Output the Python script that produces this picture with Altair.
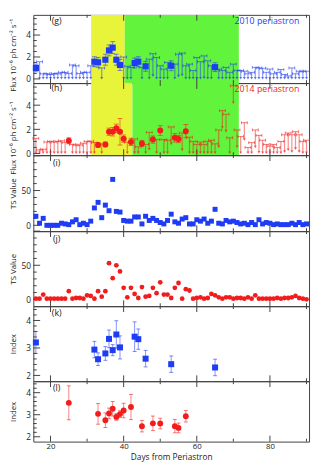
import altair as alt
import pandas as pd

# ---------------- data ----------------
days = list(range(16, 91))

ts_2010 = [13, 3, 10, 0, 0, 0, 0, 3, 2, 1, 5, 8, 1, 3, 1,
           6, 25, 33, 11, 29, 21, 66, 20, 19, 7, 6, 6, 12, 12, 2,
           13, 7, 10, 7, 4, 2, 7, 16, 5, 3, 9, 11, 2, 2, 8,
           6, 9, 3, 6, 23, 3, 2, 7, 5, 6, 4, 2, 3, 1, 4,
           1, 8, 2, 4, 3, 1, 2, 1, 1, 1, 3, 1, 4, 1, 2]
ts_2014 = [1, 1, 7, 1, 1, 1, 1, 1, 1, 12, 1, 2, 2, 1, 6,
           5, 1, 12, 4, 12, 53, 31, 50, 41, 17, 3, 17, 8, 2, 18,
           4, 5, 17, 9, 25, 7, 7, 2, 17, 24, 1, 15, 13, 1, 2,
           3, 1, 2, 8, 6, 3, 1, 3, 3, 1, 2, 2, 1, 3, 1,
           6, 1, 1, 1, 1, 1, 2, 1, 2, 2, 3, 5, 2, 1, 0]

det_2010_day = [16, 32, 33, 35, 36, 37, 38, 39, 43, 44, 46, 53, 65]
det_2010_flux = [1.0, 1.57, 1.51, 1.75, 2.6, 2.85, 1.75, 1.27, 1.45, 1.57, 1.15, 1.2, 1.07]
det_2010_flux_err = [0.35, 0.45, 0.45, 0.5, 0.5, 0.55, 0.5, 0.5, 0.45, 0.45, 0.45, 0.45, 0.4]
det_2010_index = [3.2, 2.94, 2.59, 2.8, 3.33, 2.92, 3.49, 3.02, 3.41, 3.32, 2.61, 2.41, 2.29]
det_2010_index_err = [0.4, 0.3, 0.23, 0.25, 0.32, 0.2, 0.5, 0.42, 0.54, 0.37, 0.3, 0.3, 0.3]

ul_2010_day = [17, 18, 19, 20, 21, 22, 23, 24, 25, 26, 27, 28, 29, 30, 31,
               34, 40, 41, 42, 45, 47, 48, 49, 50, 51, 52,
               54, 55, 56, 57, 58, 59, 60, 61, 62, 63, 64,
               66, 67, 68, 69, 70, 71, 72, 73, 74, 75, 76, 77, 78, 79, 80,
               81, 82, 83, 84, 85, 86, 87, 88, 89, 90]
ul_2010 = [1.57, 0.47, 0.47, 0.4, 0.5, 0.47, 0.6, 0.6, 0.5, 1.27, 1.2, 0.5, 0.6, 0.6, 1.2,
           1.0, 2.0, 1.15, 1.05, 1.05, 1.8, 2.3, 1.95, 1.2, 0.9, 1.5,
           1.35, 2.25, 2.35, 1.2, 1.35, 0.77, 1.95, 1.57, 2.1, 1.65, 1.2,
           0.9, 0.77, 1.05, 0.6, 1.35, 0.77, 0.77, 0.7, 0.47, 0.6, 1.05, 1.0, 0.97, 0.6, 0.9,
           0.47, 0.6, 0.85, 0.4, 0.27, 1.0, 0.47, 0.7, 0.7, 0.7]

det_2014_day = [25, 33, 35, 36, 37, 38, 39, 40, 42, 45, 48, 50, 54, 55, 57]
det_2014_flux = [1.05, 0.7, 0.75, 1.8, 1.8, 2.08, 1.8, 1.23, 0.96, 0.83, 1.15, 1.9, 1.3, 1.2, 1.85]
det_2014_flux_err = [0.25, 0.2, 0.2, 0.3, 0.35, 0.35, 1.1, 0.3, 0.3, 0.25, 0.3, 0.4, 0.35, 0.3, 0.55]
det_2014_index = [3.54, 3.04, 2.75, 3.06, 3.27, 2.9, 3.03, 3.19, 3.35, 2.48, 2.61, 2.6, 2.48, 2.4, 2.93]
det_2014_index_err = [0.77, 0.47, 0.33, 0.24, 0.33, 0.15, 0.15, 0.33, 0.57, 0.26, 0.33, 0.24, 0.3, 0.22, 0.26]

ul_2014_day = [16, 17, 18, 19, 20, 21, 22, 23, 24,
               26, 27, 28, 29, 30, 31, 32, 34,
               41, 43, 44, 46, 47, 49, 51, 52, 53, 56,
               58, 59, 60, 61, 62, 63, 64, 65, 66, 67, 68, 69, 70, 71, 72, 73, 74,
               75, 76, 77, 78, 79, 80, 81, 82, 83, 84, 85, 86, 87, 88, 89, 90]
ul_2014 = [1.25, 0.3, 0.35, 0.95, 1.0, 0.95, 1.0, 1.05, 0.9,
           0.75, 0.7, 0.7, 0.85, 1.0, 1.02, 0.9, 0.8,
           0.95, 1.2, 0.55, 0.75, 1.75, 1.15, 1.15, 1.1, 2.2, 1.7,
           1.35, 1.0, 0.75, 0.95, 0.75, 1.0, 1.1, 0.8, 1.95, 3.55, 3.25, 1.3, 5.6, 1.95, 1.4, 2.55, 0.5,
           0.9, 1.95, 1.5, 1.1, 0.75, 0.6, 0.75, 0.5, 1.0, 1.55, 1.7, 1.55, 1.8, 1.55, 1.0, 1.1]

band_2010_start = [31.1, 40.3]
band_2010_end = [40.3, 71.5]
band_2014_start = [31.1, 42.4]
band_2014_end = [42.4, 71.5]

x_major = [20, 40, 60, 80]
x_minor = [30, 50, 70, 90]
flux_major = [0, 2, 4]
flux_minor = [0.5, 1, 1.5, 2.5, 3, 3.5, 4.5, 5, 5.5]
ts_major = [0, 50, 100]
ts_labels = [0, 50]
ts_minor = [10, 20, 30, 40, 60, 70, 80, 90]
idx_major = [2, 3, 4]
idx_minor = [2.2, 2.4, 2.6, 2.8, 3.2, 3.4, 3.6, 3.8, 4.2, 4.4]

# ---------------- style ----------------
FONT = "Open Sans"
BLUE = "#1f3cf5"
RED = "#f21c1c"
BAND_COLORS = ["#e8f43a", "#62f43c"]
FRAME = "#404040"
TXT = "#222222"
W = 283
XS = alt.Scale(domain=[15.3, 90.7], nice=False, zero=False)
FLUX_TITLE = "Flux 10⁻⁶ ph cm⁻² s⁻¹"

X_AXIS_BOTTOM = alt.Axis(values=x_major, title="Days from Periastron", ticks=False, domain=False,
                         grid=False, labelPadding=1, titlePadding=2, labelFontSize=8,
                         titleFontSize=8.5, titleFontWeight="normal", labelFont=FONT,
                         titleFont=FONT, labelColor=TXT, titleColor=TXT)


def yaxis(values, title, title_y=None):
    kw = dict(values=values, title=title, ticks=False, domain=False, grid=False,
              labelPadding=3, labelFontSize=8.5, titleFontSize=8, titleFontWeight="normal",
              titleX=-20.5, titleBaseline="middle", titleAlign="center",
              labelFont=FONT, titleFont=FONT, labelColor=TXT, titleColor=TXT)
    if title_y is not None:
        kw["titleY"] = title_y
    return alt.Axis(**kw)


def make_panel(h, ydom, ylab_values, ymaj, ymin, ytitle, tag, content, title_y=None,
               xaxis=None, legend=None):
    ysc = alt.Scale(domain=ydom, nice=False, zero=False)
    ya = yaxis(ylab_values, ytitle, title_y)

    def Y(f):
        return alt.Y(f"{f}:Q", scale=ysc, axis=ya)

    def X(f):
        return alt.X(f"{f}:Q", scale=XS, axis=xaxis)

    layers = []
    layers += content["under"](X, Y) if "under" in content else []
    # inward frame ticks
    for vals, L in [(x_major, 6), (x_minor, 3)]:
        df = pd.DataFrame({"day": vals})
        base = alt.Chart(df).mark_rule(color=FRAME, strokeWidth=1)
        layers.append(base.encode(x=X("day"), y=alt.value(h), y2=alt.value(h - L)))
        layers.append(base.encode(x=X("day"), y=alt.value(0), y2=alt.value(L)))
    for vals, L in [(ymaj, 7), (ymin, 3.5)]:
        df = pd.DataFrame({"v": vals})
        layers.append(alt.Chart(df).mark_rule(color=FRAME, strokeWidth=1).encode(
            y=Y("v"), x=alt.value(0), x2=alt.value(L)))
    layers += content["over"](X, Y)
    layers.append(alt.Chart(pd.DataFrame({"t": [tag[0]]})).mark_text(
        font=FONT, fontSize=9, color=TXT, baseline="middle", align="center").encode(
        text="t:N", x=alt.value(24), y=alt.value(tag[1])))
    if legend is not None:
        layers.append(alt.Chart(pd.DataFrame({"t": [legend[0]]})).mark_text(
            font=FONT, fontSize=9, color=legend[1], baseline="middle", align="right").encode(
            text="t:N", x=alt.value(273), y=alt.value(legend[2])))
    return alt.layer(*layers).properties(width=W, height=h)


def flux_content(det_day, det_f, det_e, ul_day, ul_val, bs, be, color, shape, psize, arrow_len):
    def under(X, Y):
        bdf = pd.DataFrame({"s": bs, "e": be, "c": BAND_COLORS})
        return [alt.Chart(bdf).mark_rect().encode(x=X("s"), x2=alt.X2("e"),
                                                 color=alt.Color("c:N", scale=None))]

    def over(X, Y):
        out = []
        ub = alt.Chart(pd.DataFrame({"day": ul_day, "ul": ul_val})).transform_calculate(
            end=f"max(datum.ul - {arrow_len}, 0.06)")
        op = 0.5
        out.append(ub.mark_rule(color=color, opacity=op, strokeWidth=1.2, clip=True).encode(
            x=X("day"), y=Y("ul"), y2=alt.Y2("end")))
        out.append(ub.mark_point(shape="triangle-down", filled=True, size=10, color=color,
                                 opacity=op + 0.1, clip=True).encode(x=X("day"), y=Y("end")))
        out.append(ub.mark_tick(orient="horizontal", size=6, thickness=1, color=color,
                                opacity=op + 0.1).encode(x=X("day"), y=Y("ul")))
        for off in (-3, 3):
            out.append(ub.mark_tick(orient="vertical", size=3, thickness=1, color=color,
                                    opacity=op + 0.1, xOffset=off).encode(x=X("day"), y=Y("ul")))
        db = alt.Chart(pd.DataFrame({"day": det_day, "f": det_f, "e": det_e})).transform_calculate(
            lo="datum.f - datum.e", hi="datum.f + datum.e")
        out.append(db.mark_rule(color=color, opacity=0.55).encode(
            x=X("day"), y=Y("lo"), y2=alt.Y2("hi")))
        for fld in ("lo", "hi"):
            out.append(db.mark_tick(orient="horizontal", size=5, thickness=1, color=color,
                                    opacity=0.6).encode(x=X("day"), y=Y(fld)))
        out.append(db.mark_point(shape=shape, filled=True, size=psize, color=color,
                                 opacity=1).encode(x=X("day"), y=Y("f")))
        return out
    return {"under": under, "over": over}


def ts_content(vals, color, shape, psize):
    def over(X, Y):
        df = pd.DataFrame({"day": days, "ts": vals})
        return [alt.Chart(df).mark_point(shape=shape, filled=True, size=psize, color=color,
                                         opacity=1).encode(x=X("day"), y=Y("ts"))]
    return {"over": over}


def idx_content(d, v, e, color, shape, psize):
    def over(X, Y):
        db = alt.Chart(pd.DataFrame({"day": d, "v": v, "e": e})).transform_calculate(
            lo="datum.v - datum.e", hi="datum.v + datum.e")
        out = [db.mark_rule(color=color, opacity=0.55).encode(x=X("day"), y=Y("lo"), y2=alt.Y2("hi"))]
        for fld in ("lo", "hi"):
            out.append(db.mark_tick(orient="horizontal", size=4, thickness=1, color=color,
                                    opacity=0.6).encode(x=X("day"), y=Y(fld)))
        out.append(db.mark_point(shape=shape, filled=True, size=psize, color=color,
                                 opacity=1).encode(x=X("day"), y=Y("v")))
        return out
    return {"over": over}


pg = make_panel(70, [-0.38, 5.84], flux_major, flux_major, flux_minor, FLUX_TITLE, ("(g)", 6),
                flux_content(det_2010_day, det_2010_flux, det_2010_flux_err, ul_2010_day, ul_2010,
                             band_2010_start, band_2010_end, BLUE, "square", 40, 2.0),
                title_y=41, legend=("2010 periastron", BLUE, 6))
ph = make_panel(74, [-0.14, 5.83], flux_major, flux_major, flux_minor, FLUX_TITLE, ("(h)", 5.5),
                flux_content(det_2014_day, det_2014_flux, det_2014_flux_err, ul_2014_day, ul_2014,
                             band_2014_start, band_2014_end, RED, "circle", 38, 1.4),
                title_y=56, legend=("2014 periastron", RED, 6.3))
pi = make_panel(78, [-8.4, 100.8], ts_labels, ts_major, ts_minor, "TS Value", ("(i)", 8),
                ts_content(ts_2010, BLUE, "square", 26))
pj = make_panel(77, [-10, 100], ts_labels, ts_major, ts_minor, "TS Value", ("(j)", 8.5),
                ts_content(ts_2014, RED, "circle", 24))
pk = make_panel(77, [1.79, 4.52], idx_major, idx_major, idx_minor, "Index", ("(k)", 7),
                idx_content(det_2010_day, det_2010_index, det_2010_index_err, BLUE, "square", 38))
pl = make_panel(62, [1.78, 4.52], idx_major, idx_major, idx_minor, "Index", ("(l)", 7.5),
                idx_content(det_2014_day, det_2014_index, det_2014_index_err, RED, "circle", 36),
                xaxis=X_AXIS_BOTTOM)

chart = alt.vconcat(pg, ph, pi, pj, pk, pl, spacing=0, bounds="flush").properties(
    padding={"left": 0, "right": 0, "top": 0, "bottom": 0}
).configure_view(stroke=FRAME, strokeWidth=1)

chart.save("out.html", embed_options={"renderer": "svg", "actions": False})
